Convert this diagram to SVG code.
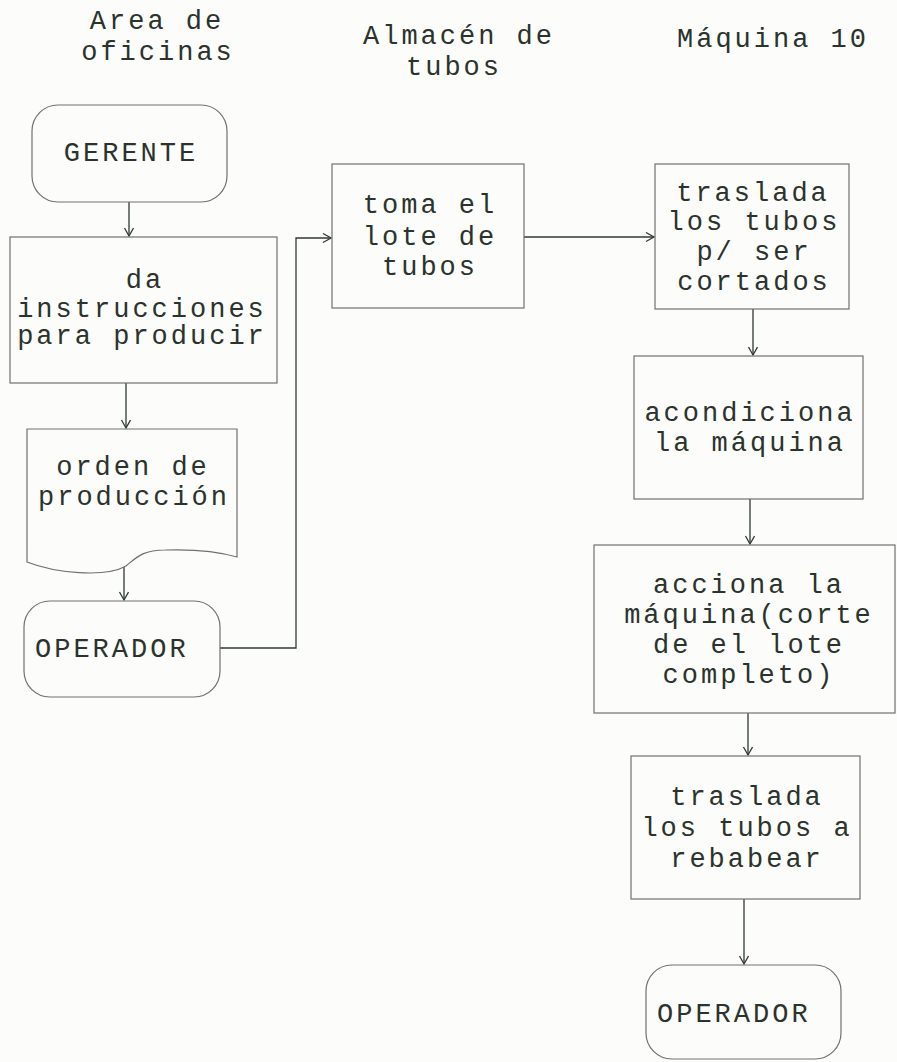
<svg xmlns="http://www.w3.org/2000/svg" width="897" height="1062" viewBox="0 0 897 1062">
<defs>
<style>
.t{font-family:"Liberation Mono","DejaVu Sans Mono",monospace;font-size:27px;letter-spacing:3px;fill:#2a332c;}
.m{text-anchor:middle;}
.b{fill:none;stroke:#707070;stroke-width:1.2;}
.c{fill:none;stroke:#2f3a32;stroke-width:1.3;}
</style>
<marker id="ah" markerWidth="12" markerHeight="12" refX="9" refY="5" orient="auto" markerUnits="userSpaceOnUse">
<path d="M1,0.5 L9,5 L1,9.5" fill="none" stroke="#2f3a32" stroke-width="1.3"/>
</marker>
</defs>
<rect width="897" height="1062" fill="#fcfcfa"/>
<g id="headers">
<text class="t m" x="157" y="29">Area de</text>
<text class="t m" x="158" y="60">oficinas</text>
<text class="t m" x="459" y="44">Almacén de</text>
<text class="t m" x="454" y="75">tubos</text>
<text class="t m" x="773" y="47">Máquina 10</text>
</g>
<g id="connectors">
<path class="c" d="M129,202 V236" marker-end="url(#ah)"/>
<path class="c" d="M126,383 V428" marker-end="url(#ah)"/>
<path class="c" d="M124,567 V600" marker-end="url(#ah)"/>
<path class="c" d="M220,648 H296 V238 H331" marker-end="url(#ah)"/>
<path class="c" d="M524,237 H654" marker-end="url(#ah)"/>
<path class="c" d="M753,309 V355" marker-end="url(#ah)"/>
<path class="c" d="M750,499 V544" marker-end="url(#ah)"/>
<path class="c" d="M748,713 V755" marker-end="url(#ah)"/>
<path class="c" d="M744,899 V964" marker-end="url(#ah)"/>
</g>
<g id="gerente">
<rect class="b" x="32" y="105" width="195" height="97" rx="26"/>
<text class="t m" x="131" y="161">GERENTE</text>
</g>
<g id="instrucciones">
<rect class="b" x="10" y="237" width="267" height="146"/>
<text class="t m" x="145" y="288">da</text>
<text class="t m" x="142" y="317">instrucciones</text>
<text class="t m" x="142" y="344">para producir</text>
</g>
<g id="orden">
<path class="b" d="M27,562 V429 H237 V557 C220,552 195,549 165,550 C142,550 136,558 126,566 C105,578 55,573 27,562 Z"/>
<text class="t m" x="133" y="475">orden de</text>
<text class="t m" x="134" y="505">producción</text>
</g>
<g id="operador1">
<rect class="b" x="24" y="601" width="196" height="96" rx="26"/>
<text class="t" x="35" y="657">OPERADOR</text>
</g>
<g id="toma">
<rect class="b" x="332" y="164" width="192" height="144"/>
<text class="t m" x="430" y="213">toma el</text>
<text class="t m" x="430" y="245">lote de</text>
<text class="t m" x="430" y="275">tubos</text>
</g>
<g id="traslada1">
<rect class="b" x="655" y="164" width="194" height="145"/>
<text class="t m" x="753" y="201">traslada</text>
<text class="t m" x="754" y="230">los tubos</text>
<text class="t m" x="754" y="260">p/ ser</text>
<text class="t m" x="754" y="290">cortados</text>
</g>
<g id="acondiciona">
<rect class="b" x="634" y="356" width="229" height="143"/>
<text class="t m" x="750" y="421">acondiciona</text>
<text class="t m" x="750" y="451">la máquina</text>
</g>
<g id="acciona">
<rect class="b" x="594" y="545" width="301" height="168"/>
<text class="t m" x="749" y="593">acciona la</text>
<text class="t m" x="749" y="623">máquina(corte</text>
<text class="t m" x="749" y="653">de el lote</text>
<text class="t m" x="749" y="683">completo)</text>
</g>
<g id="traslada2">
<rect class="b" x="631" y="756" width="229" height="143"/>
<text class="t m" x="747" y="805">traslada</text>
<text class="t m" x="747" y="836">los tubos a</text>
<text class="t m" x="747" y="867">rebabear</text>
</g>
<g id="operador2">
<rect class="b" x="646" y="965" width="195" height="94" rx="26"/>
<text class="t" x="657" y="1022">OPERADOR</text>
</g>
</svg>
